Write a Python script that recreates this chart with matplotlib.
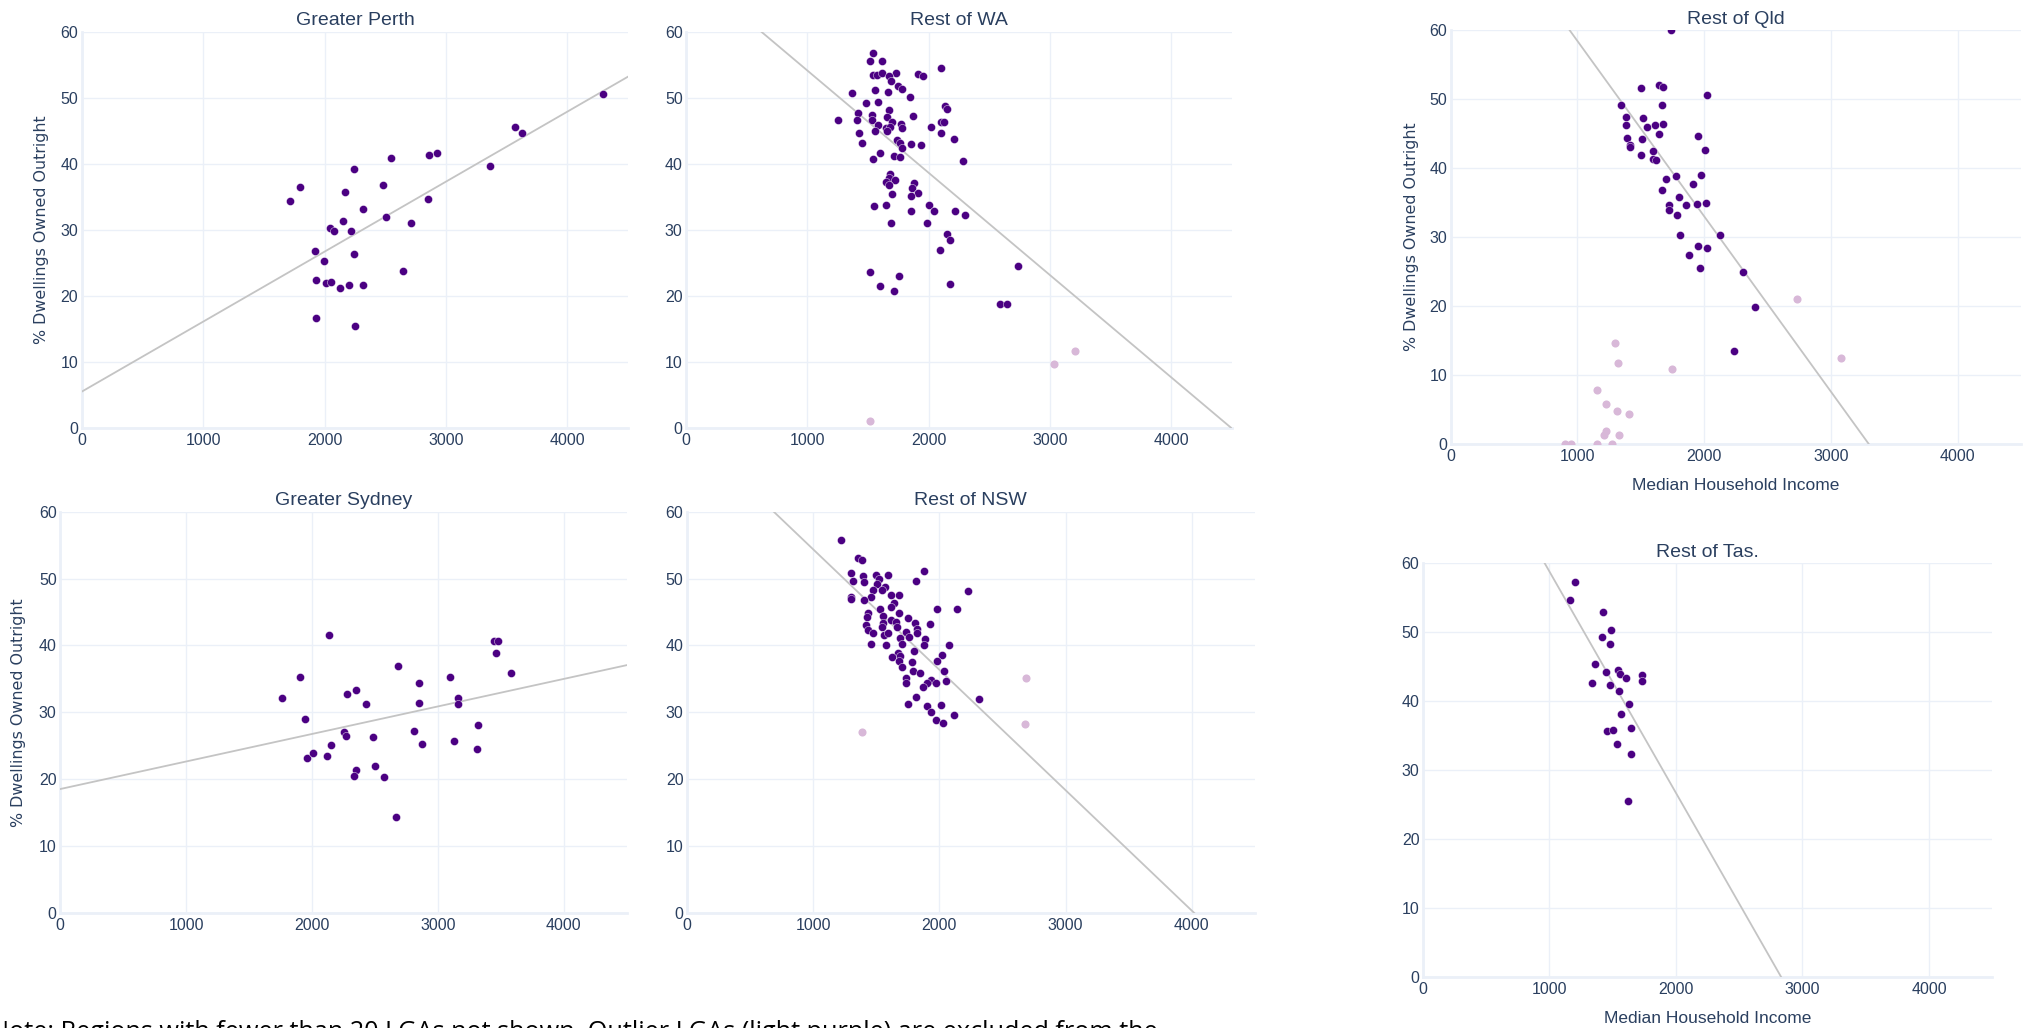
import matplotlib.pyplot as plt
import numpy as np

# ---- data ----
regions = ["Greater Perth", "Rest of WA", "Rest of Qld",
           "Greater Sydney", "Rest of NSW", "Rest of Tas."]

perth_x = [1715, 1800, 2244, 2544, 2864, 2929, 3567, 3625, 4293, 3366, 2483, 2165,
           2315, 2851, 2510, 2148, 2049, 2077, 2220, 2708, 1920, 1998, 2240, 2650,
           1933, 2012, 2056, 2124, 2199, 2315, 1927, 2251]
perth_y = [34.3, 36.5, 39.2, 40.9, 41.3, 41.6, 45.5, 44.6, 50.5, 39.7, 36.8, 35.7,
           33.1, 34.7, 32.0, 31.3, 30.3, 29.8, 29.8, 31.0, 26.8, 25.3, 26.4, 23.8,
           22.4, 21.9, 22.1, 21.2, 21.7, 21.7, 16.6, 15.4]
perth_out_x = []
perth_out_y = []

wa_x = [1543, 1520, 1614, 1543, 1574, 1614, 1729, 1675, 1692, 1911, 1951, 2100,
        1372, 1560, 1668, 1749, 1779, 1847, 1483, 1584, 2133, 2153, 1415, 1530,
        1671, 1250, 1409, 1533, 1655, 1870, 1584, 1699, 1776, 2106, 2130, 2022,
        1557, 1648, 1682, 1783, 1655, 1429, 2106, 1449, 1742, 1763, 1857, 1941,
        2211, 1779, 1597, 1540, 1712, 1763, 2285, 1678, 1675, 1719, 1648, 1671,
        1880, 1860, 1914, 1702, 1853, 1550, 1651, 2005, 1853, 2042, 2221, 2298,
        1692, 1985, 2153, 2174, 2090, 2733, 1517, 1756, 1601, 1715, 2180, 2592, 2645]
wa_y = [56.8, 55.6, 55.5, 53.5, 53.5, 53.8, 53.8, 53.3, 52.6, 53.6, 53.3, 54.5,
        50.7, 51.2, 50.9, 51.8, 51.4, 50.1, 49.2, 49.4, 48.7, 48.3, 47.7, 47.4,
        48.1, 46.7, 46.6, 46.6, 47.1, 47.2, 45.9, 46.4, 46.1, 46.3, 46.3, 45.5,
        45.0, 45.4, 45.6, 45.4, 44.9, 44.7, 44.6, 43.2, 43.6, 43.2, 43.0, 42.8,
        43.7, 42.4, 41.7, 40.7, 41.2, 41.1, 40.4, 38.4, 37.9, 37.6, 37.3, 36.8,
        37.1, 36.4, 35.6, 35.4, 35.2, 33.6, 33.8, 33.8, 32.9, 32.8, 32.9, 32.3,
        31.0, 31.1, 29.4, 28.5, 26.9, 24.5, 23.6, 23.0, 21.5, 20.8, 21.8, 18.8, 18.7]
wa_out_x = [3030, 3205, 1513]
wa_out_y = [9.7, 11.6, 1.0]

qld_x = [1739, 1499, 1647, 1678, 2026, 1347, 1664, 1381, 1519, 1384, 1550, 1610,
         1674, 1647, 1394, 1512, 1948, 1415, 1418, 2005, 1597, 1499, 1593, 1620,
         1779, 1975, 1695, 1911, 1671, 1799, 2012, 1941, 1722, 1853, 1725, 1783,
         2123, 1810, 1951, 2022, 1880, 1968, 2309, 2400, 2232]
qld_y = [60.0, 51.6, 52.0, 51.8, 50.6, 49.1, 49.1, 47.4, 47.2, 46.2, 46.0, 46.2,
         46.4, 45.0, 44.4, 44.2, 44.7, 43.3, 43.0, 42.6, 42.5, 41.9, 41.3, 41.2,
         38.8, 39.0, 38.4, 37.7, 36.8, 35.8, 35.0, 34.8, 34.7, 34.6, 33.9, 33.2,
         30.3, 30.3, 28.7, 28.5, 27.4, 25.6, 25.0, 19.9, 13.5]
qld_out_x = [2735, 3082, 1296, 1320, 1749, 1158, 1222, 1313, 1404, 1229, 1209, 1330,
             905, 949, 1158, 1276]
qld_out_y = [21.1, 12.5, 14.7, 11.8, 10.9, 7.9, 5.9, 4.8, 4.4, 1.9, 1.4, 1.4,
             0, 0, 0, 0]

syd_x = [1761, 1906, 1942, 1959, 2005, 2133, 2117, 2153, 2275, 2354, 2252, 2268,
         2433, 2489, 2351, 2337, 2499, 2574, 2680, 2670, 2808, 2854, 2848, 2874,
         3094, 3157, 3157, 3127, 3318, 3308, 3447, 3476, 3463, 3578]
syd_y = [32.1, 35.2, 29.0, 23.2, 23.9, 41.5, 23.5, 25.1, 32.7, 33.3, 27.0, 26.4,
         31.2, 26.3, 21.4, 20.5, 21.9, 20.3, 36.9, 14.3, 27.2, 34.3, 31.4, 25.3,
         35.2, 32.1, 31.3, 25.7, 28.1, 24.5, 40.6, 40.7, 38.8, 35.8]
syd_out_x = []
syd_out_y = []

nsw_x = [1222, 1358, 1387, 1300, 1394, 1497, 1591, 1879, 1319, 1403, 1520, 1504,
         1818, 1568, 1471, 1543, 2228, 1617, 1682, 1462, 1300, 1300, 1403, 1643,
         1530, 1614, 1982, 2141, 1679, 1433, 1426, 1552, 1750, 1617, 1556, 1656,
         1808, 1927, 1417, 1543, 1666, 1821, 1433, 1475, 1740, 1821, 1562, 1594,
         1688, 1763, 1886, 1455, 1578, 1708, 1879, 2073, 1798, 1669, 1691, 2024,
         1627, 1679, 1782, 1979, 1708, 1795, 1847, 2037, 1737, 1737, 1934, 1902,
         1973, 2057, 1873, 2312, 1818, 1753, 1902, 2012, 1934, 2115, 1973, 2031]
nsw_y = [55.7, 53.1, 52.7, 50.9, 50.4, 50.5, 50.6, 51.1, 49.7, 49.5, 50.0, 49.2,
         49.6, 48.8, 48.3, 48.3, 48.2, 47.5, 47.5, 47.3, 47.2, 46.9, 46.8, 46.4,
         45.5, 45.7, 45.5, 45.4, 44.9, 44.8, 44.2, 44.4, 44.1, 43.8, 43.4, 43.5,
         43.3, 43.2, 43.0, 42.8, 42.8, 42.5, 42.3, 41.9, 42.0, 41.8, 41.6, 41.8,
         41.1, 41.3, 40.9, 40.2, 40.0, 40.2, 40.0, 40.1, 39.2, 38.9, 38.4, 38.5,
         38.2, 37.6, 37.5, 37.7, 36.8, 36.1, 35.8, 36.1, 35.1, 34.3, 34.8, 34.3,
         34.3, 34.7, 33.7, 32.0, 32.2, 31.2, 31.0, 31.1, 30.1, 29.6, 28.9, 28.4]
nsw_out_x = [2687, 2678, 1391]
nsw_out_y = [35.1, 28.3, 27.1]

tas_x = [1200, 1163, 1423, 1484, 1417, 1481, 1363, 1450, 1538, 1558, 1606, 1734,
         1728, 1336, 1481, 1552, 1630, 1565, 1643, 1457, 1505, 1535, 1647, 1623]
tas_y = [57.3, 54.7, 53.0, 50.4, 49.3, 48.3, 45.4, 44.2, 44.5, 44.0, 43.4, 43.8,
         42.9, 42.7, 42.4, 41.5, 39.6, 38.2, 36.1, 35.7, 35.9, 33.8, 32.3, 25.5]
tas_out_x = []
tas_out_y = []

# trend lines (intercept, slope)
trend_intercept = [5.5, 69.6, 83.8, 18.5, 72.4, 90.9]
trend_slope = [0.0106, -0.01548, -0.02539, 0.00412, -0.01802, -0.03209]

x_ticks = [0, 1000, 2000, 3000, 4000]
y_ticks = [0, 10, 20, 30, 40, 50, 60]

note = ("Note: Regions with fewer than 20 LGAs not shown. Outlier LGAs (light purple) "
        "are excluded from the")

# ---- styling ----
W, H = 2031, 1028
DARK = "#4b0082"
LIGHT = "#d8b8d8"
GRID = "#ebf0f8"
TXT = "#2a3f5f"
ylab = "% Dwellings Owned Outright"

plt.rcParams['font.family'] = ['Liberation Sans', 'DejaVu Sans']

fig = plt.figure(figsize=(W / 100, H / 100), dpi=100)
fig.patch.set_facecolor("white")

# pixel boxes: left, top, right, bottom ; y label right edge ; x label
layout = [
    ((81.7, 31.7, 628.1, 428), 49, False),
    ((686.1, 31.7, 1231.8, 428), None, False),
    ((1450.7, 30, 2021, 444.3), 1418.6, True),
    ((60.1, 511.7, 626.7, 912.7), 25.7, False),
    ((686.9, 511.7, 1254.8, 912.7), None, False),
    ((1422.9, 563.3, 1992.3, 977.3), None, True),
]

series = [
    (perth_x, perth_y, perth_out_x, perth_out_y),
    (wa_x, wa_y, wa_out_x, wa_out_y),
    (qld_x, qld_y, qld_out_x, qld_out_y),
    (syd_x, syd_y, syd_out_x, syd_out_y),
    (nsw_x, nsw_y, nsw_out_x, nsw_out_y),
    (tas_x, tas_y, tas_out_x, tas_out_y),
]

for i, ((l, t, r, b), ylx, has_xlab) in enumerate(layout):
    ax = fig.add_axes([l / W, 1 - b / H, (r - l) / W, (b - t) / H])
    ax.set_xlim(0, 4500)
    ax.set_ylim(0, 60)
    ax.set_xticks(x_ticks)
    ax.set_yticks(y_ticks)
    ax.set_axisbelow(True)
    ax.grid(color=GRID, lw=1)
    for s in ax.spines.values():
        s.set_visible(False)
    ax.axhline(0, color=GRID, lw=2, zorder=0.6, clip_on=False)
    ax.axvline(0, color=GRID, lw=2, zorder=0.6, clip_on=False)
    ax.tick_params(axis='both', length=0, colors=TXT, labelsize=11.5)
    ax.tick_params(axis='y', pad=2.5)
    ax.tick_params(axis='x', pad=3.5)

    xs, ys, ox, oy = series[i]
    lx = np.array([0, 4500])
    ax.plot(lx, trend_intercept[i] + trend_slope[i] * lx, color="#c4c4c4", lw=1.3, zorder=2)
    if ox:
        ax.scatter(ox, oy, s=34, color=LIGHT, linewidths=0, zorder=3)
    ax.scatter(xs, ys, s=34, color=DARK, edgecolors="white", linewidths=0.3, zorder=4)

    ax.set_title(regions[i], fontsize=14, color=TXT, pad=4.5)

    if ylx is not None:
        ax.set_ylabel(ylab, fontsize=11.4, color=TXT, family=['DejaVu Sans'])
        ax.yaxis.set_label_coords((ylx - l) / (r - l), 0.5)
    if has_xlab:
        ax.set_xlabel("Median Household Income", fontsize=12.5, color=TXT)
        ax.xaxis.set_label_coords(0.5, -34 / (b - t))

fig.text(-10 / W, -0.0105, note, fontsize=18.2, color="black",
         family=['Open Sans', 'DejaVu Sans'], va='baseline', ha='left')

fig.savefig("out.png", dpi=100, facecolor="white")
